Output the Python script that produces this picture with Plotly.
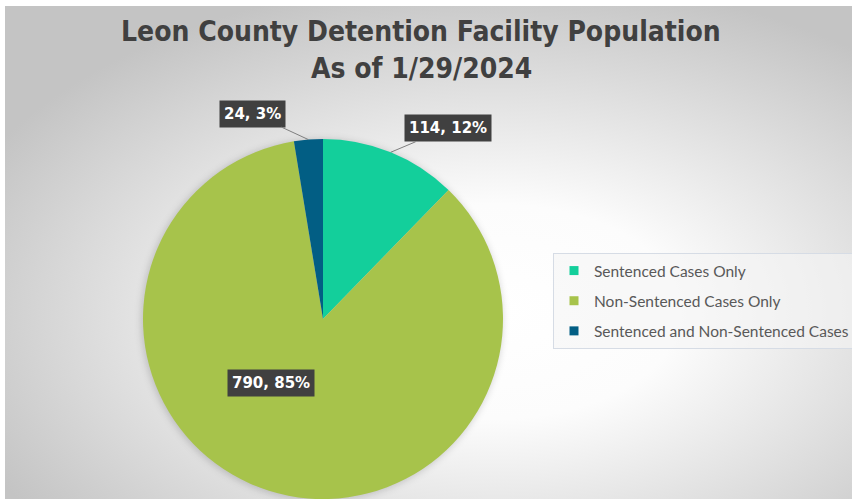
import base64, math
import plotly.graph_objects as go

categories = ["Sentenced Cases Only", "Non-Sentenced Cases Only", "Sentenced and Non-Sentenced Cases"]
values = [114, 790, 24]
colors = ["#13CF9B", "#A7C34B", "#025E84"]
title_lines = ["Leon County Detention Facility Population", "As of 1/29/2024"]

W, H = 852, 499
dom_x = [143 / W, 503 / W]
dom_y = [0.0, 360 / H]

total = sum(values)
cx = (dom_x[0] + dom_x[1]) / 2 * W
cy = H - (dom_y[0] + dom_y[1]) / 2 * H
r = min((dom_x[1] - dom_x[0]) * W, (dom_y[1] - dom_y[0]) * H) / 2

# radial gradient background (chart area) with a soft shadow behind the pie
bx, by, bw, bh = 5, 6, 847, 493
svg = (f'<svg xmlns="http://www.w3.org/2000/svg" width="{bw}" height="{bh}">'
       '<defs><radialGradient id="g" cx="0.58" cy="0.62" r="0.68">'
       '<stop offset="0" stop-color="#ffffff"/><stop offset="0.32" stop-color="#fcfcfc"/>'
       '<stop offset="1" stop-color="#c4c4c4"/></radialGradient>'
       '<filter id="b" x="-20%" y="-20%" width="140%" height="140%"><feGaussianBlur stdDeviation="3.5"/></filter></defs>'
       f'<rect width="{bw}" height="{bh}" fill="url(#g)"/>'
       f'<circle cx="{cx - bx - 1:.1f}" cy="{cy - by + 1:.1f}" r="{r + 1:.1f}" fill="#000" fill-opacity="0.16" filter="url(#b)"/>'
       '</svg>')
bg_src = "data:image/svg+xml;base64," + base64.b64encode(svg.encode()).decode()

fig = go.Figure()
fig.add_trace(go.Pie(
    labels=categories, values=values, sort=False, direction="clockwise", rotation=0,
    marker=dict(colors=colors, line=dict(width=0)), textinfo="none",
    domain=dict(x=dom_x, y=dom_y), showlegend=False, hoverinfo="label+value+percent"))

# legend entries (square swatches)
for c, col in zip(categories, colors):
    fig.add_trace(go.Scatter(x=[None], y=[None], mode="markers", name=c, legendgroup=c,
                             marker=dict(symbol="square", size=9, color=col)))

# data labels from values
offsets = [(57, -24), (2, -108), (-56, -26)]
arrow_cols = ["#7F7F7F", "rgba(0,0,0,0)", "#7F7F7F"]
cum = 0
for v, (ax, ay), acol in zip(values, offsets, arrow_cols):
    mid = (cum + v / 2) / total * 2 * math.pi
    cum += v
    px = cx + r * math.sin(mid)
    py = cy - r * math.cos(mid)
    fig.add_annotation(
        x=px / W, y=1 - py / H, xref="paper", yref="paper",
        text=f"<b>{v}, {round(v / total * 100)}%</b>", showarrow=True, arrowhead=0,
        arrowwidth=1, arrowcolor=acol, ax=ax, ay=ay,
        font=dict(family="DejaVu Sans", size=15, color="#FFFFFF"),
        bgcolor="#404040", borderpad=4)

# title lines
for line, yc in zip(title_lines, [32, 68]):
    fig.add_annotation(x=421 / W, y=1 - yc / H, xref="paper", yref="paper",
                       xanchor="center", yanchor="middle", showarrow=False,
                       text=f"<b>{line}</b>",
                       font=dict(family="DejaVu Sans Condensed, DejaVu Sans", size=28, color="#404040"))

fig.update_layout(
    width=W, height=H, margin=dict(l=0, r=0, t=0, b=0, autoexpand=False),
    paper_bgcolor="#FFFFFF", plot_bgcolor="rgba(0,0,0,0)",
    xaxis=dict(visible=False), yaxis=dict(visible=False),
    legend=dict(x=553 / W, y=1 - 253 / H, xanchor="left", yanchor="top",
                bgcolor="rgba(245,245,245,0.6)", bordercolor="#D6DCE5", borderwidth=1,
                font=dict(family="Lato", size=15.5, color="#595959"), tracegroupgap=7),
    images=[dict(source=bg_src, xref="paper", yref="paper", x=bx / W, y=1 - by / H,
                 sizex=bw / W, sizey=bh / H, sizing="stretch", layer="below",
                 xanchor="left", yanchor="top")],
)
fig.write_html("out.html", config={"displayModeBar": False},
               post_script="document.body.style.margin='0';")
